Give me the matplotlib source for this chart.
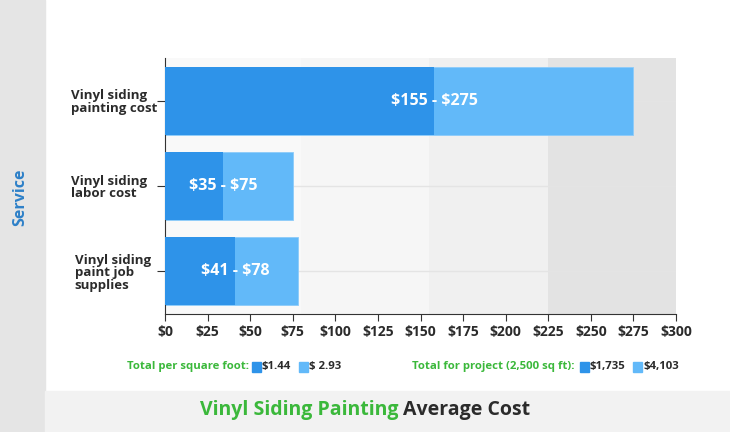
import matplotlib.pyplot as plt
from matplotlib.patches import Rectangle

# data
services = ["Vinyl siding\npainting cost", "Vinyl siding\nlabor cost", "Vinyl siding\npaint job\nsupplies"]
low_cost = [158, 34, 41]
high_cost = [275, 75, 78]
range_labels = [r"\$155 - \$275", r"\$35 - \$75", r"\$41 - \$78"]
band_edges = [0, 80, 155, 225, 300]
band_colors = ["#f9f9f9", "#f6f6f6", "#f0f0f0", "#e3e3e3"]
xticks = list(range(0, 301, 25))

dark = "#2e93e9"
light = "#62b9f9"
green = "#3bb83b"
txt = "#2b2b2b"

plt.rcParams['font.family'] = ['Open Sans', 'DejaVu Sans']

fig = plt.figure(figsize=(7.3, 4.32), dpi=100)
W, H = 730, 432

# background panels
fig.add_artist(Rectangle((0, 0), 45 / W, 1, transform=fig.transFigure, color="#e5e5e5", zorder=0))
fig.add_artist(Rectangle((45 / W, 0), 1, 41 / H, transform=fig.transFigure, color="#f2f2f2", zorder=0))

ax = fig.add_axes([165 / W, (H - 314) / H, 511 / W, 256 / H])
ax.set_facecolor("white")

for i in range(len(band_colors)):
    ax.axvspan(band_edges[i], band_edges[i + 1], color=band_colors[i], zorder=0, lw=0)

ypos = list(range(len(services)))
for y in ypos:
    ax.axhline(y, color="#e4e4e4", lw=1, zorder=1)

ax.barh(ypos, high_cost, height=0.8, color=light, edgecolor="#8ccbfa", lw=0.6, zorder=2)
ax.barh(ypos, low_cost, height=0.8, color=dark, lw=0, zorder=3)

for y, lo, lab in zip(ypos, low_cost, range_labels):
    ax.text(lo, y, lab, color="white", fontsize=11.5, fontweight="bold",
            ha="center", va="center", zorder=4)

ax.set_xlim(0, 300)
ax.set_ylim(len(services) - 0.5, -0.5)
ax.set_xticks(xticks)
ax.set_xticklabels([r"\$%d" % v for v in xticks], fontsize=10, fontweight="bold", color=txt)
ax.set_yticks(ypos)
ax.set_yticklabels(services, fontsize=9.5, fontweight="bold", color=txt, ha="left", linespacing=0.95)
ax.tick_params(axis="y", length=6, color="#333333", pad=62)
ax.tick_params(axis="x", length=5, color="#333333", pad=3)
# third label sits slightly indented in the original
ax.get_yticklabels()[2].set_x(0.008)

for s in ["top", "right"]:
    ax.spines[s].set_visible(False)
ax.spines["left"].set_color("#333333")
ax.spines["bottom"].set_color("#333333")

fig.text(20 / W, 1 - 197 / H, "Service", rotation=90, color="#2d80c8", fontsize=11.5,
         fontweight="bold", ha="center", va="center")

# legend row
ly = 1 - 367 / H
def swatch(x, c):
    fig.add_artist(Rectangle((x / W, ly - 5 / H), 9 / W, 10 / H, transform=fig.transFigure, color=c))

lfs = 8.2
fig.text(249 / W, ly, "Total per square foot:", color=green, fontsize=lfs, fontweight="bold", va="center", ha="right")
swatch(252, dark)
fig.text(262 / W, ly, r"\$1.44", color=txt, fontsize=lfs, fontweight="bold", va="center")
swatch(299, light)
fig.text(309 / W, ly, r"\$ 2.93", color=txt, fontsize=lfs, fontweight="bold", va="center")

fig.text(575 / W, ly, "Total for project (2,500 sq ft):", color=green, fontsize=lfs, fontweight="bold", va="center", ha="right")
swatch(580, dark)
fig.text(590 / W, ly, r"\$1,735", color=txt, fontsize=lfs, fontweight="bold", va="center")
swatch(633, light)
fig.text(643 / W, ly, r"\$4,103", color=txt, fontsize=lfs, fontweight="bold", va="center")

# title
t1 = fig.text(365 / W, 1 - 410 / H, "Vinyl Siding Painting ", color=green, fontsize=14,
              fontweight="bold", ha="right", va="center")
fig.canvas.draw()
bb = t1.get_window_extent()
t2_w = fig.text(0, 0, "Average Cost", fontsize=14, fontweight="bold")
w2 = t2_w.get_window_extent().width
t2_w.remove()
w1 = bb.width
start = (365 - (w1 + w2) / 2) / W
t1.set_ha("left")
t1.set_x(start)
fig.text(start + w1 / W, 1 - 410 / H, "Average Cost", color=txt, fontsize=14,
         fontweight="bold", ha="left", va="center")

fig.savefig("out.png", dpi=100)
